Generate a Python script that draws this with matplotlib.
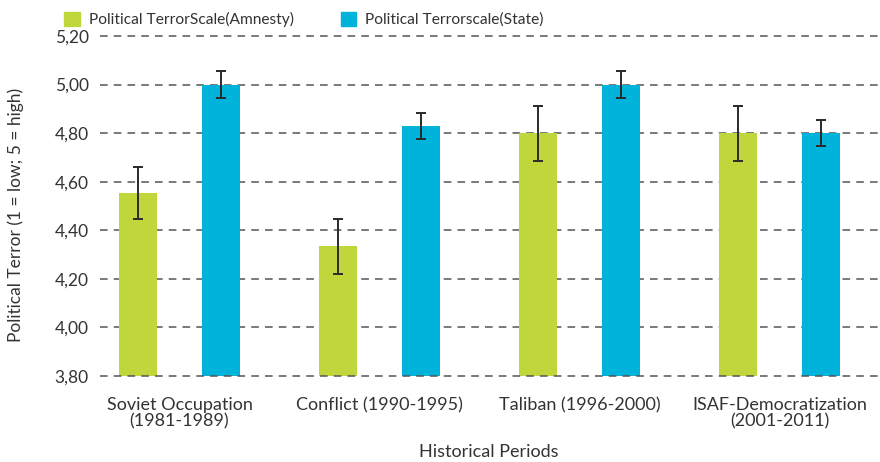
import numpy as np
import matplotlib
matplotlib.use("Agg")
from matplotlib import pyplot as plt
from matplotlib.patches import Patch

### data ###

periods = ["Soviet Occupation\n(1981-1989)", "Conflict (1990-1995)",
           "Taliban (1996-2000)", "ISAF-Democratization\n(2001-2011)"]
amnesty = [4.555, 4.335, 4.80, 4.80]
amnesty_err = [0.107, 0.113, 0.113, 0.113]
state = [5.00, 4.83, 5.00, 4.80]
state_err = [0.055, 0.055, 0.055, 0.053]
series_names = ["Political TerrorScale(Amnesty)", "Political Terrorscale(State)"]
yticks = [3.80, 4.00, 4.20, 4.40, 4.60, 4.80, 5.00, 5.20]

### style ###

plt.rcParams['font.family'] = ['Lato', 'DejaVu Sans']
GREEN = "#c0d73c"
BLUE = "#00b3da"
TXT = "#333333"

fig = plt.figure(figsize=(8.8, 4.62), dpi=100)
ax = fig.add_axes([100/880, 1-376/462, 778/880, 340/462])

x = np.arange(len(periods))
w = 0.19
off = 0.2075
err_kw = dict(ecolor="#2a2a2a", elinewidth=1.4, capsize=3.5, capthick=1.4)
ax.bar(x - off, amnesty, w, color=GREEN, yerr=amnesty_err, error_kw=err_kw, zorder=2)
ax.bar(x + off, state, w, color=BLUE, yerr=state_err, error_kw=err_kw, zorder=2)

ax.set_ylim(3.80, 5.20)
ax.set_xlim(-0.3975, 3.4925)
ax.set_yticks(yticks)
ax.set_yticklabels([("%.2f" % v).replace(".", ",") for v in yticks], fontsize=12.5, color=TXT)
ax.set_xticks(x)
ax.set_xticklabels(periods, fontsize=13, color=TXT, linespacing=1.05)
ax.tick_params(length=0, pad=8)
ax.tick_params(axis='x', pad=15)

for v in yticks:
    z = 3 if v == yticks[0] else 1
    ax.axhline(v, color="#555555", lw=1.1, dashes=(5, 4), zorder=z, clip_on=False)
for s in ax.spines.values():
    s.set_visible(False)

ax.set_xlabel("Historical Periods", fontsize=13, color=TXT)
ax.xaxis.set_label_coords(0.5, (376 - 452) / 340)
ax.xaxis.label.set_va("center")
ax.set_ylabel("Political Terror (1 = low; 5 = high)", fontsize=12.5, color=TXT)
ax.yaxis.set_label_coords((16 - 100) / 778, 0.474)
ax.yaxis.label.set_va("center")

handles = [Patch(color=GREEN), Patch(color=BLUE)]
fig.legend(handles, series_names, loc="upper left", bbox_to_anchor=(50/880, 1.005),
           ncol=2, frameon=False, fontsize=11.2, handlelength=1.0, handleheight=1.0,
           handletextpad=0.6, columnspacing=3.0, labelcolor=TXT)

fig.savefig("out.png", dpi=100)
